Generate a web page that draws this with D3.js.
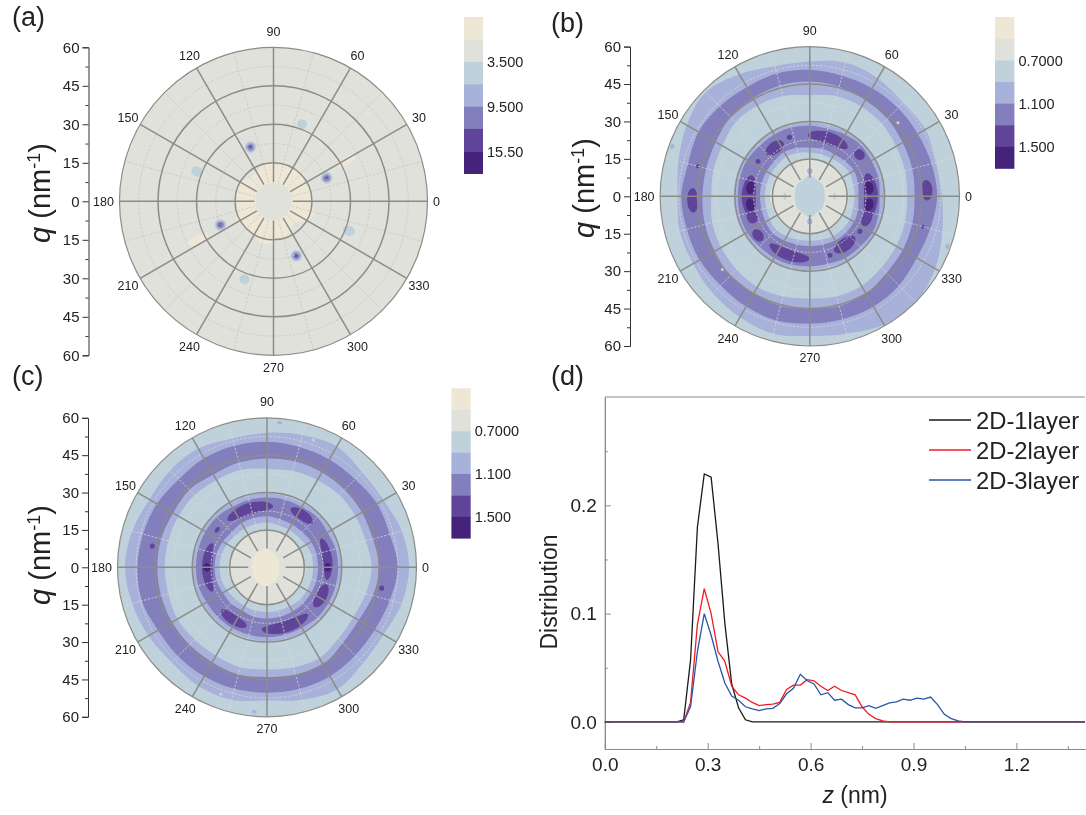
<!DOCTYPE html>
<html>
<head>
<meta charset="utf-8">
<script src="https://cdn.jsdelivr.net/npm/d3@7"></script>
<style>
  html, body { margin: 0; padding: 0; background: #fff; }
  svg { display: block; font-family: "Liberation Sans", Arial, sans-serif; filter: blur(0.4px); }
</style>
</head>
<body>
<div id="chart"></div>
<script>
// contour band colours, top of the colour bar first
const levelColors = ['#efe7d6', '#e1e1db', '#bfd2db', '#a8b1da', '#837ebc', '#5f4499', '#46237a'];
const angleLabels = [0, 30, 60, 90, 120, 150, 180, 210, 240, 270, 300, 330];
const minorAngles = [15, 45, 75, 105, 135, 165, 195, 225, 255, 285, 315, 345];
const qMajor = [-60, -45, -30, -15, 0, 15, 30, 45, 60];
const qMinor = [-52.5, -37.5, -22.5, -7.5, 7.5, 22.5, 37.5, 52.5];
const qRings = [15, 30, 45];
const qDashRings = [22.5, 37.5, 52.5];
const qHole = 7.5;

// contour boundaries: q at 0, 15, 30 ... 345 degrees
const boundaryAngles = [0, 15, 30, 45, 60, 75, 90, 105, 120, 135, 150, 165, 180, 195, 210, 225, 240, 255, 270, 285, 300, 315, 330, 345];

// panel (a)
const aCream = [14, 15, 14, 16, 15, 16, 15, 15, 13, 13, 15, 15, 14, 15, 16, 15, 15, 17, 16, 15, 13, 12, 15, 17];
const aCenter = [7.2, 7.2, 7.2, 7.2, 7.2, 7.2, 7.2, 7.2, 7.2, 7.2, 7.2, 7.2, 7.2, 7.2, 7.2, 7.2, 7.2, 7.2, 7.2, 7.2, 7.2, 7.2, 7.2, 7.2];
// theta, q, half width (deg), half width (q), colour level
const aBlobs = [
  [29, 32.5, 2.5, 4, 0], [207, 33, 2.5, 4.5, 0],
  [69.7, 32, 3.5, 1.9, 2], [158.7, 31.9, 3.5, 2.4, 2], [338.5, 31.6, 3.5, 2.4, 2], [249.6, 32.4, 3.5, 1.9, 2],
  [113, 22.9, 5.7, 2.3, 2], [23.7, 22.6, 5.7, 2.3, 2], [292.7, 23, 5.7, 2.3, 2], [204, 22.6, 5.7, 2.3, 2],
  [113, 22.9, 4.5, 1.8, 3], [23.7, 22.6, 4.5, 1.8, 3], [292.7, 23, 4.5, 1.8, 3], [204, 22.6, 4.5, 1.8, 3],
  [113, 22.9, 3, 1.2, 4], [23.7, 22.6, 3, 1.2, 4], [292.7, 23, 3, 1.2, 4], [204, 22.6, 3, 1.2, 4],
  [113, 22.9, 1.3, 0.5, 5], [23.7, 22.6, 1.3, 0.5, 5], [292.7, 23, 1.3, 0.5, 5], [204, 22.6, 1.3, 0.5, 5]
];

// panel (b), outer band
const bOuterA8 = [53, 52.5, 53.5, 53, 54.5, 55.5, 54, 54, 56.5, 59, 57, 54.5, 53, 54, 54, 55, 56, 57, 56, 57, 59.5, 60, 58, 55];
const bOuter83 = [51, 50.5, 50, 50, 50, 50, 50.7, 51, 50.5, 51, 51.5, 50.5, 51.5, 51, 51, 50.5, 51, 51.5, 51, 51, 51, 50.5, 49.5, 50];
const bInner83 = [42, 42.5, 43, 44, 44.5, 45.5, 46, 46, 45.5, 45, 43.5, 43, 43, 43.5, 44, 45, 45, 45.5, 45, 45.5, 45, 43.5, 43, 42.5];
const bInnerA8 = [39, 39.5, 40, 41, 41.5, 41.5, 40.5, 41.5, 42, 42, 40.5, 40, 39.5, 40.5, 41, 41.5, 42, 41.5, 41, 41.5, 41.5, 40.5, 40, 39.5];
// panel (b), inner band
const bRingA8 = [30, 30, 30, 30.5, 30, 29.5, 29.7, 30, 30, 30, 30.5, 30.5, 30.5, 30.5, 30.5, 30, 30, 29.7, 29.5, 29.5, 30, 30, 30.5, 30.3];
const bRing83 = [28, 28.5, 28.5, 29, 28.5, 28, 28.3, 28.5, 28.5, 28.5, 29, 29, 28.8, 29, 29, 28.5, 28.5, 28.3, 28, 28, 28.5, 28.5, 29, 28.5];
const bRingIn83 = [19.5, 20, 20.5, 20, 19.5, 19.7, 19.5, 20, 20.5, 20, 20, 20, 20, 20, 20.5, 21, 20.5, 20, 20, 20, 20.5, 20.5, 20.5, 20];
const bRingInA8 = [18, 18, 18.5, 18, 17.5, 17.5, 17.5, 18, 18.5, 18, 18, 18, 18, 18, 18.5, 19, 18.5, 18, 17.8, 18, 18.5, 18.5, 18.5, 18];
const bGrey = [15.5, 15.5, 15, 15, 14.5, 14.5, 15, 14.5, 15, 15, 15.5, 15.5, 16, 15.5, 15.5, 15, 15, 14.5, 15, 14.5, 15, 15, 15.5, 15.5];
const bCenter = [6, 6.2, 6.5, 7, 7, 7.5, 8.5, 7.5, 7, 7, 6.5, 6.2, 6, 6.2, 6.5, 7, 7, 7.5, 8.5, 7.5, 7, 7, 6.5, 6.2];
const bBlobs = [
  [72, 24.5, 20, 2.4, 5], [126, 24, 10, 2.4, 5], [109, 25, 2.5, 1, 5], [40, 26, 5, 2, 5],
  [0, 24.5, 22, 2.8, 5], [325, 24.5, 2.5, 1, 5], [180, 24.5, 20, 2.8, 5], [146, 25, 2.2, 1, 5],
  [200, 24.5, 6, 2.2, 5], [217, 26, 6, 2, 5], [250, 25, 20, 2.2, 5], [306, 24, 12, 2.5, 5], [289, 25, 2.2, 0.9, 5],
  [339, 24.5, 8, 2, 5], [3, 47, 5, 2.2, 5], [182, 47, 6, 2.2, 5], [165, 46.5, 1, 0.8, 5], [345, 47, 1, 0.7, 5],
  [8, 24, 6, 1.8, 6], [352, 24, 6, 1.8, 6], [172, 24, 6, 1.8, 6], [188, 24, 6, 1.8, 6],
  [90, 10, 6, 1.3, 3], [270, 10, 6, 1.3, 3], [0, 10, 9, 0.6, 2], [180, 10, 9, 0.6, 2],
  [39.8, 46, 0.8, 0.6, 2], [220, 45.7, 0.8, 0.6, 2], [160, 58.6, 1, 0.8, 3], [340, 58.7, 1, 0.8, 3]
];

// panel (c), outer band
const cOuterA8 = [57, 56, 54, 54, 56, 55, 54, 53.5, 55, 55, 54.5, 56, 57, 56, 55, 54, 55, 55, 53.5, 55, 56.5, 54.5, 54, 56];
const cOuter83 = [52.5, 51, 51, 50, 50, 50, 50.4, 50.5, 50.5, 50, 51, 51.5, 52, 52, 50.5, 50.5, 50.5, 50.5, 50.3, 50.5, 50.5, 50, 50, 51];
const cInner83 = [45, 44, 44, 44, 44, 44, 43.7, 43.5, 43, 44, 43.5, 44, 44, 44, 44, 44, 44, 44.5, 44, 44.5, 45, 43, 42.5, 44];
const cInnerA8 = [42, 41, 41, 41, 40.5, 40, 39.5, 40.5, 40.5, 41, 41, 41, 41, 41, 41.5, 41, 41, 41.5, 41, 41.5, 42, 40.5, 40, 41];
// panel (c), inner band
const cRingA8 = [30, 30, 30, 30, 29.5, 29.5, 29.7, 29.7, 29.7, 30, 30, 30, 30, 30, 29.7, 29.7, 29.5, 29.5, 29.7, 29.7, 29.7, 30, 30, 30];
const cRing83 = [28.5, 28.5, 28, 28.5, 28, 28, 28, 28, 28, 28.5, 28.5, 28.5, 28.5, 28.5, 28, 28, 28, 28, 28, 28, 28, 28.5, 28.5, 28.5];
const cRingIn83 = [20.5, 20.5, 20.5, 20, 20, 20, 20.5, 20.5, 20.5, 20, 20.5, 21, 21, 21, 20.5, 20.5, 20, 20.5, 20.5, 20.5, 20.5, 20.5, 20.5, 20.5];
const cRingInA8 = [18.5, 18.5, 18, 17.5, 17.5, 17.5, 18, 18, 18, 18, 18.5, 19, 19, 19, 18.5, 18, 18, 18, 18, 18, 18, 18.5, 18.5, 18.5];
const cGrey = [15.5, 15, 15, 15, 15, 15, 14.5, 15, 15, 15, 15, 15.5, 15.5, 15.5, 15, 15, 15, 15, 14.5, 15, 15, 15, 15.5, 15.5];
const cCenter = [5, 5, 5.5, 5.5, 6, 6.5, 7.5, 7.5, 7, 7, 6.5, 6, 6, 6, 6.5, 7, 7, 7.5, 7.5, 7, 6.5, 6, 5.5, 5];
const cBlobs = [
  [107, 24.5, 23, 2.3, 5], [56, 25.3, 12, 2, 5], [8, 24.5, 20, 1.9, 5], [332, 24.7, 12, 2.2, 5],
  [288, 25, 23, 2.3, 5], [237, 25, 14, 2, 5], [180, 24, 24, 2.1, 5], [143, 25, 3, 0.8, 5],
  [169.5, 46.8, 1.3, 1, 5], [349.7, 46.8, 1.3, 1, 5],
  [180, 24, 4, 1.5, 6], [0, 24.3, 4, 1.4, 6],
  [85, 58.2, 1, 0.7, 3], [70, 54.4, 0.8, 0.6, 2], [250, 54.2, 0.8, 0.6, 2], [265, 58.2, 1, 0.7, 3]
];

// colour bar labels
const barA = ['', '', '3.500', '', '9.500', '', '15.50'];
const barB = ['', '', '0.7000', '', '1.100', '', '1.500'];
const barC = ['', '', '0.7000', '', '1.100', '', '1.500'];

// panel (d)
const zValues = [0, 0.21, 0.23, 0.25, 0.27, 0.29, 0.31, 0.33, 0.35, 0.37, 0.39, 0.41, 0.43, 0.45, 0.47, 0.49, 0.51, 0.53, 0.55, 0.57, 0.59, 0.61, 0.63, 0.65, 0.67, 0.69, 0.71, 0.73, 0.75, 0.77, 0.79, 0.81, 0.83, 0.85, 0.87, 0.89, 0.91, 0.93, 0.95, 0.97, 0.99, 1.01, 1.03, 1.05, 1.4];
const layer1 = [0, 0, 0.002, 0.057, 0.18, 0.229, 0.226, 0.165, 0.091, 0.035, 0.013, 0.002, 0, 0, 0, 0, 0, 0, 0, 0, 0, 0, 0, 0, 0, 0, 0, 0, 0, 0, 0, 0, 0, 0, 0, 0, 0, 0, 0, 0, 0, 0, 0, 0, 0];
const layer2 = [0, 0, 0, 0.018, 0.09, 0.123, 0.1, 0.065, 0.056, 0.033, 0.025, 0.022, 0.018, 0.015, 0.016, 0.0165, 0.018, 0.03, 0.034, 0.034, 0.039, 0.038, 0.033, 0.029, 0.033, 0.029, 0.027, 0.025, 0.014, 0.007, 0.003, 0.001, 0, 0, 0, 0, 0, 0, 0, 0, 0, 0, 0, 0, 0];
const layer3 = [0, 0, 0, 0.014, 0.065, 0.1, 0.08, 0.056, 0.036, 0.024, 0.02, 0.014, 0.012, 0.0105, 0.012, 0.0125, 0.017, 0.026, 0.031, 0.044, 0.038, 0.035, 0.025, 0.027, 0.02, 0.021, 0.016, 0.013, 0.013, 0.015, 0.0125, 0.015, 0.0175, 0.0185, 0.021, 0.02, 0.022, 0.021, 0.023, 0.016, 0.007, 0.003, 0.001, 0, 0];
const layerNames = ['2D-1layer', '2D-2layer', '2D-3layer'];
const layerColors = ['#1a1a1a', '#ee1c25', '#2a55a8'];
const xMajor = [0, 0.3, 0.6, 0.9, 1.2];
const xMinor = [0.15, 0.45, 0.75, 1.05, 1.35];
const yMajor = [0, 0.1, 0.2];
const yMinor = [0.05, 0.15, 0.25];

const svg = d3.select('#chart').append('svg').attr('width', 1086).attr('height', 815);
const gridGray = '#8c8c88';
// theta counts counter-clockwise from the right, d3 radial angles clockwise from the top
const toRad = (deg) => ((90 - deg) * Math.PI) / 180;

function drawPolar(p) {
  const r = d3.scaleLinear().domain([0, 60]).range([0, p.R]);
  const g = svg.append('g').attr('transform', `translate(${p.cx},${p.cy})`);
  const clipId = 'clip-' + p.name;
  g.append('clipPath').attr('id', clipId).append('circle').attr('r', p.R);

  const closed = d3.lineRadial()
    .angle((d) => toRad(d[0]))
    .radius((d) => r(d[1]))
    .curve(d3.curveCatmullRomClosed);

  const fills = g.append('g').attr('clip-path', `url(#${clipId})`);
  fills.append('circle').attr('r', p.R).attr('fill', levelColors[p.base]);
  p.bands.forEach((b) => {
    fills.append('path')
      .attr('d', closed(boundaryAngles.map((a, i) => [a, b.q[i]])))
      .attr('fill', levelColors[b.level]);
  });
  p.blobs.forEach(([theta, q, dt, dq, level]) => {
    const pts = d3.range(14).map((i) => {
      const t = (i / 14) * 2 * Math.PI;
      return [theta + dt * Math.cos(t), q + dq * Math.sin(t)];
    });
    fills.append('path').attr('d', closed(pts)).attr('fill', levelColors[level]);
  });

  // dashed minor grid
  const minor = g.append('g').attr('fill', 'none').attr('stroke', p.dash)
    .attr('stroke-width', 0.8).attr('stroke-dasharray', '2.2,1.6');
  qDashRings.forEach((q) => minor.append('circle').attr('r', r(q)));
  minorAngles.forEach((a) => {
    const [x1, y1] = d3.pointRadial(toRad(a), r(qHole));
    const [x2, y2] = d3.pointRadial(toRad(a), p.R);
    minor.append('line').attr('x1', x1).attr('y1', y1).attr('x2', x2).attr('y2', y2);
  });

  // solid major grid
  const major = g.append('g').attr('fill', 'none').attr('stroke', gridGray).attr('stroke-width', 1.5);
  qRings.forEach((q) => major.append('circle').attr('r', r(q)));
  angleLabels.forEach((a) => {
    const [x1, y1] = d3.pointRadial(toRad(a), r(qHole));
    const [x2, y2] = d3.pointRadial(toRad(a), p.R);
    major.append('line').attr('x1', x1).attr('y1', y1).attr('x2', x2).attr('y2', y2);
  });
  g.append('circle').attr('r', p.R).attr('fill', 'none').attr('stroke', gridGray).attr('stroke-width', 1.2);

  // angle labels
  const labelGap = { 0: 9, 90: 16, 180: 16, 270: 12 };
  g.append('g').selectAll('text').data(angleLabels).join('text')
    .attr('x', (d) => d3.pointRadial(toRad(d), p.R + (labelGap[d] || 14))[0])
    .attr('y', (d) => d3.pointRadial(toRad(d), p.R + (labelGap[d] || 14))[1])
    .attr('text-anchor', 'middle').attr('dy', '0.36em')
    .attr('font-size', 12.5).attr('fill', '#222')
    .text((d) => d);

  // radial axis on the left
  const y = d3.scaleLinear().domain([-60, 60]).range([p.cy + p.R, p.cy - p.R]);
  const ax = svg.append('g').attr('transform', `translate(${p.axisX},0)`)
    .call(d3.axisLeft(y).tickValues(qMajor).tickFormat((d) => Math.abs(d)).tickSize(6).tickPadding(3));
  ax.selectAll('text').attr('font-size', 15).attr('font-family', 'Liberation Sans').attr('fill', '#222');
  ax.selectAll('line, path').attr('stroke', '#333');
  const axm = svg.append('g').attr('transform', `translate(${p.axisX},0)`)
    .call(d3.axisLeft(y).tickValues(qMinor).tickFormat('').tickSize(3).tickSizeOuter(0));
  axm.selectAll('line').attr('stroke', '#333');
  axm.select('.domain').remove();

  // axis title
  const t = svg.append('text')
    .attr('transform', `translate(${p.titleX},${p.titleY}) rotate(-90)`)
    .attr('text-anchor', 'middle').attr('font-size', 29).attr('fill', '#222');
  t.append('tspan').attr('font-style', 'italic').text('q');
  t.append('tspan').text(' (nm');
  t.append('tspan').attr('font-size', 18).attr('dy', -10).text('-1');
  t.append('tspan').attr('dy', 10).text(')');

  // colour bar
  const bar = d3.scaleBand().domain(d3.range(7)).range([p.barTop, p.barBottom]);
  svg.append('g').selectAll('rect').data(levelColors).join('rect')
    .attr('x', p.barX).attr('width', p.barW)
    .attr('y', (d, i) => bar(i)).attr('height', bar.bandwidth() + 0.3)
    .attr('fill', (d) => d);
  svg.append('g').selectAll('text').data(p.barLabels).join('text')
    .attr('x', p.barX + p.barW + 4)
    .attr('y', (d, i) => bar(i))
    .attr('dy', '0.36em').attr('font-size', 14.5).attr('fill', '#222')
    .text((d) => d);

  svg.append('text').attr('x', p.tagX).attr('y', p.tagY)
    .attr('font-size', 27).attr('fill', '#222').text(p.tag);
}

drawPolar({
  name: 'a', tag: '(a)', tagX: 12, tagY: 26, cx: 273.5, cy: 201.3, R: 154, axisX: 88.5, titleX: 50, titleY: 193,
  base: 1, dash: '#c6c6c2',
  bands: [{ q: aCream, level: 0 }, { q: aCenter, level: 1 }],
  blobs: aBlobs,
  barX: 464, barW: 19, barTop: 17, barBottom: 173.7, barLabels: barA
});
drawPolar({
  name: 'b', tag: '(b)', tagX: 551, tagY: 32, cx: 809.8, cy: 196.3, R: 149.7, axisX: 630, titleX: 594, titleY: 188,
  base: 2, dash: '#d9d9d6',
  bands: [
    { q: bOuterA8, level: 3 }, { q: bOuter83, level: 4 }, { q: bInner83, level: 3 }, { q: bInnerA8, level: 2 },
    { q: bRingA8, level: 3 }, { q: bRing83, level: 4 }, { q: bRingIn83, level: 3 }, { q: bRingInA8, level: 2 },
    { q: bGrey, level: 1 }, { q: bCenter, level: 2 }
  ],
  blobs: bBlobs,
  barX: 995, barW: 19.4, barTop: 17, barBottom: 168.5, barLabels: barB
});
drawPolar({
  name: 'c', tag: '(c)', tagX: 12, tagY: 385, cx: 267, cy: 567.3, R: 149.5, axisX: 88, titleX: 50, titleY: 555,
  base: 2, dash: '#d9d9d6',
  bands: [
    { q: cOuterA8, level: 3 }, { q: cOuter83, level: 4 }, { q: cInner83, level: 3 }, { q: cInnerA8, level: 2 },
    { q: cRingA8, level: 3 }, { q: cRing83, level: 4 }, { q: cRingIn83, level: 3 }, { q: cRingInA8, level: 2 },
    { q: cGrey, level: 1 }, { q: cCenter, level: 0 }
  ],
  blobs: cBlobs,
  barX: 451.4, barW: 19.3, barTop: 388.3, barBottom: 538.3, barLabels: barC
});

// ---- panel (d)
const x = d3.scaleLinear().domain([0, 1.4]).range([604.8, 1085]);
const y = d3.scaleLinear().domain([-0.025, 0.3]).range([749, 397]);
const frame = '#8a8a8a';

const xAxis = svg.append('g').attr('transform', 'translate(0,749)')
  .call(d3.axisBottom(x).tickValues(xMajor).tickFormat(d3.format('.1f')).tickSize(-6).tickPadding(9).tickSizeOuter(0));
xAxis.selectAll('text').attr('font-size', 19).attr('font-family', 'Liberation Sans').attr('fill', '#222');
const xAxisMinor = svg.append('g').attr('transform', 'translate(0,749)')
  .call(d3.axisBottom(x).tickValues(xMinor).tickFormat('').tickSize(-3).tickSizeOuter(0));
const yAxis = svg.append('g').attr('transform', 'translate(604.8,0)')
  .call(d3.axisLeft(y).tickValues(yMajor).tickFormat(d3.format('.1f')).tickSize(-6).tickPadding(8).tickSizeOuter(0));
yAxis.selectAll('text').attr('font-size', 19).attr('font-family', 'Liberation Sans').attr('fill', '#222');
const yAxisMinor = svg.append('g').attr('transform', 'translate(604.8,0)')
  .call(d3.axisLeft(y).tickValues(yMinor).tickFormat('').tickSize(-3).tickSizeOuter(0));
[xAxis, xAxisMinor, yAxis, yAxisMinor].forEach((a) => a.selectAll('line, path').attr('stroke', frame));
svg.append('line').attr('x1', 604.8).attr('x2', 1085).attr('y1', 397).attr('y2', 397).attr('stroke', frame);

const line = d3.line().x((d, i) => x(zValues[i])).y((d) => y(d));
[layer1, layer2, layer3].forEach((s, i) => {
  svg.append('path').attr('d', line(s)).attr('fill', 'none')
    .attr('stroke', layerColors[i]).attr('stroke-width', 1.3);
});

const legendY = d3.scaleBand().domain(layerNames).range([405, 495]);
layerNames.forEach((n, i) => {
  const ly = legendY(n) + legendY.bandwidth() / 2;
  svg.append('line').attr('x1', 929).attr('x2', 971).attr('y1', ly).attr('y2', ly)
    .attr('stroke', layerColors[i]).attr('stroke-width', 1.3);
  svg.append('text').attr('x', 976).attr('y', ly).attr('dy', '0.36em')
    .attr('font-size', 23.8).attr('fill', '#222').text(n);
});

const zt = svg.append('text').attr('x', 855).attr('y', 803).attr('text-anchor', 'middle')
  .attr('font-size', 23).attr('fill', '#222');
zt.append('tspan').attr('font-style', 'italic').text('z');
zt.append('tspan').text(' (nm)');

svg.append('text').attr('transform', 'translate(557,592) rotate(-90)').attr('text-anchor', 'middle')
  .attr('font-size', 23).attr('fill', '#222').text('Distribution');
svg.append('text').attr('x', 551).attr('y', 385).attr('font-size', 27).attr('fill', '#222').text('(d)');
</script>
</body>
</html>
